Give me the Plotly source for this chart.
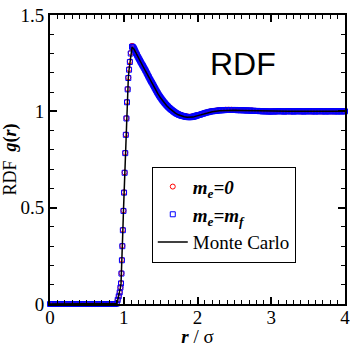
import numpy as np
import plotly.graph_objects as go

# ---- sample positions r/sigma of the simulation points ----
r_flat = np.round(np.arange(0.0, 0.881, 0.02), 3)          # 45 points
r_rise = [0.905, 0.918, 0.932, 0.945, 0.955, 0.963, 0.969, 0.975, 0.981, 0.988, 0.996, 1.004,
          1.012, 1.020, 1.028, 1.036, 1.044, 1.053, 1.062, 1.072, 1.083, 1.095, 1.112]
r_decay = np.round(np.arange(1.12, 2.0001, 0.01), 3)        # 89 points
r_tail = np.round(np.arange(2.02, 4.0001, 0.02), 3)         # 100 points

# ---- m_e = m_f (blue squares) ----
mef_flat = [0, 0, 0, 0, 0, 0, 0, 0, 0, 0, 0, 0, 0, 0, 0, 0, 0, 0, 0, 0, 0, 0, 0,
            0, 0, 0, 0, 0, 0, 0, 0, 0, 0, 0, 0, 0, 0, 0, 0, 0, 0, 0, 0, 0, 0]
mef_rise = [0.002, 0.021, 0.040, 0.060, 0.085, 0.107, 0.158, 0.227, 0.300, 0.383, 0.483, 0.578,
            0.681, 0.783, 0.878, 0.963, 1.047, 1.114, 1.173, 1.216, 1.256, 1.300, 1.335]
mef_decay = [1.335, 1.331, 1.325, 1.317, 1.308, 1.300, 1.292, 1.284, 1.277, 1.270,
             1.263, 1.256, 1.249, 1.242, 1.236, 1.229, 1.222, 1.215, 1.208, 1.200,
             1.193, 1.185, 1.178, 1.170, 1.163, 1.156, 1.150, 1.143, 1.136, 1.129,
             1.122, 1.115, 1.108, 1.101, 1.095, 1.088, 1.082, 1.076, 1.071, 1.065,
             1.060, 1.055, 1.050, 1.045, 1.041, 1.036, 1.032, 1.028, 1.024, 1.020,
             1.017, 1.013, 1.010, 1.007, 1.004, 1.001, 0.998, 0.995, 0.993, 0.990,
             0.988, 0.986, 0.984, 0.982, 0.981, 0.979, 0.978, 0.977, 0.976, 0.975,
             0.974, 0.973, 0.972, 0.971, 0.971, 0.970, 0.970, 0.970, 0.970, 0.970,
             0.971, 0.971, 0.972, 0.973, 0.974, 0.975, 0.977, 0.978, 0.979]
mef_tail = [0.981, 0.983, 0.986, 0.988, 0.991, 0.993, 0.995, 0.997, 0.999, 1.000,
            1.001, 1.002, 1.003, 1.004, 1.005, 1.005, 1.006, 1.006, 1.007, 1.007,
            1.007, 1.007, 1.007, 1.007, 1.007, 1.007, 1.006, 1.006, 1.006, 1.006,
            1.005, 1.005, 1.005, 1.004, 1.004, 1.004, 1.003, 1.003, 1.002, 1.002,
            1.002, 1.001, 1.001, 1.000, 1.000, 1.000, 1.000, 0.999, 0.999, 0.999,
            1.000, 0.999, 1.000, 1.000, 1.001, 1.000, 1.000, 1.000, 0.999, 1.000,
            1.000, 1.001, 1.000, 1.000, 0.999, 1.000, 1.000, 1.000, 1.001, 1.000,
            1.000, 0.999, 1.000, 1.000, 1.000, 1.001, 1.000, 1.000, 1.000, 0.999,
            1.000, 1.000, 1.001, 1.000, 1.000, 1.000, 0.999, 1.000, 1.000, 1.000,
            1.001, 1.000, 1.000, 1.000, 0.999, 1.000, 1.000, 1.000, 1.000, 1.000]

# ---- m_e = 0 (red circles) ----
me0_flat = [0, 0, 0, 0, 0, 0, 0, 0, 0, 0, 0, 0, 0, 0, 0, 0, 0, 0, 0, 0, 0, 0, 0,
            0, 0, 0, 0, 0, 0, 0, 0, 0, 0, 0, 0, 0, 0, 0, 0, 0, 0, 0, 0, 0, 0]
me0_rise = [0.003, 0.022, 0.041, 0.061, 0.086, 0.108, 0.160, 0.229, 0.302, 0.385, 0.485, 0.580,
            0.683, 0.785, 0.880, 0.965, 1.049, 1.116, 1.175, 1.219, 1.259, 1.304, 1.340]
me0_decay = [1.338, 1.333, 1.327, 1.319, 1.310, 1.302, 1.294, 1.286, 1.279, 1.272,
             1.265, 1.258, 1.251, 1.244, 1.238, 1.231, 1.224, 1.217, 1.210, 1.202,
             1.195, 1.187, 1.180, 1.172, 1.165, 1.158, 1.152, 1.145, 1.138, 1.131,
             1.124, 1.117, 1.110, 1.103, 1.097, 1.090, 1.084, 1.078, 1.073, 1.067,
             1.062, 1.057, 1.052, 1.047, 1.043, 1.038, 1.034, 1.030, 1.026, 1.022,
             1.019, 1.015, 1.012, 1.009, 1.006, 1.003, 1.000, 0.997, 0.995, 0.992,
             0.990, 0.988, 0.986, 0.984, 0.983, 0.981, 0.980, 0.978, 0.977, 0.976,
             0.975, 0.974, 0.973, 0.973, 0.972, 0.972, 0.972, 0.971, 0.971, 0.972,
             0.972, 0.973, 0.973, 0.974, 0.975, 0.976, 0.977, 0.978, 0.980]
me0_tail = [0.982, 0.984, 0.987, 0.989, 0.992, 0.994, 0.996, 0.998, 1.000, 1.001,
            1.002, 1.003, 1.004, 1.005, 1.006, 1.006, 1.007, 1.007, 1.008, 1.008,
            1.008, 1.008, 1.008, 1.007, 1.007, 1.007, 1.007, 1.006, 1.006, 1.006,
            1.006, 1.005, 1.005, 1.005, 1.004, 1.004, 1.004, 1.003, 1.003, 1.002,
            1.002, 1.002, 1.001, 1.001, 1.001, 1.000, 1.000, 1.000, 0.999, 0.999,
            1.000, 1.000, 0.999, 1.000, 1.001, 1.001, 1.000, 1.000, 0.999, 1.000,
            1.001, 1.000, 1.000, 0.999, 1.000, 1.000, 1.001, 1.001, 1.000, 1.000,
            0.999, 1.000, 1.000, 1.001, 1.000, 1.000, 1.000, 0.999, 1.000, 1.001,
            1.000, 1.000, 1.000, 1.000, 0.999, 1.000, 1.001, 1.000, 1.000, 1.000,
            1.000, 0.999, 1.000, 1.000, 1.001, 1.000, 1.000, 1.000, 1.000, 1.000]

# ---- Monte Carlo reference curve (black line) ----
r_mc = [0.00, 0.40, 0.88, 0.905, 0.918, 0.932, 0.945, 0.955, 0.963, 0.969, 0.975, 0.981, 0.988,
        0.996, 1.004, 1.012, 1.020, 1.028, 1.036, 1.044, 1.053, 1.062, 1.072, 1.083, 1.095, 1.112,
        1.14, 1.18, 1.22, 1.26, 1.30, 1.34, 1.38, 1.42, 1.46, 1.50, 1.54, 1.58, 1.62, 1.66, 1.70,
        1.74, 1.78, 1.82, 1.86, 1.90, 1.94, 1.98, 2.05, 2.10, 2.15, 2.20, 2.30, 2.40, 2.50, 2.60,
        2.70, 2.80, 2.90, 3.00, 3.25, 3.50, 3.75, 4.00]
g_mc = [0.000, 0.000, 0.000, 0.002, 0.021, 0.040, 0.060, 0.085, 0.107, 0.158, 0.227, 0.300, 0.383,
        0.483, 0.578, 0.681, 0.783, 0.878, 0.963, 1.047, 1.114, 1.173, 1.216, 1.256, 1.300, 1.332,
        1.322, 1.290, 1.261, 1.234, 1.206, 1.176, 1.148, 1.120, 1.093, 1.069, 1.048, 1.030, 1.015,
        1.002, 0.991, 0.982, 0.976, 0.972, 0.969, 0.968, 0.970, 0.975, 0.983, 0.989, 0.994, 0.998,
        1.003, 1.005, 1.005, 1.004, 1.003, 1.001, 1.000, 1.000, 1.000, 1.000, 1.000, 1.000]

r = list(r_flat) + r_rise + list(r_decay) + list(r_tail)
g_mef = mef_flat + mef_rise + mef_decay + mef_tail
g_me0 = me0_flat + me0_rise + me0_decay + me0_tail
assert len(r) == len(g_mef) == len(g_me0), (len(r), len(g_mef), len(g_me0))
assert len(r_mc) == len(g_mc), (len(r_mc), len(g_mc))

x_ticks = [0, 1, 2, 3, 4]
y_ticks = [0, 0.5, 1, 1.5]
y_tick_labels = ["0", "0.5", "1", "1.5"]

serif = "Liberation Serif, Times New Roman, serif"

fig = go.Figure()
fig.add_trace(go.Scatter(
    x=r, y=g_me0, mode="markers", cliponaxis=False,
    name="<b><i>m</i></b><sub><b><i>e</i></b></sub><b><i>=0</i></b>",
    marker=dict(symbol="circle-open", size=5, color="#ff0000", line=dict(width=1))))
fig.add_trace(go.Scatter(
    x=r, y=g_mef, mode="markers", cliponaxis=False,
    name="<b><i>m</i></b><sub><b><i>e</i></b></sub><b><i>=m</i></b><sub><b><i>f</i></b></sub>",
    marker=dict(symbol="square-open", size=5, color="#0000ff", line=dict(width=1))))
fig.add_trace(go.Scatter(
    x=r_mc, y=g_mc, mode="lines", cliponaxis=False,
    name="Monte Carlo", line=dict(color="black", width=1.5)))

axis_common = dict(
    showline=True, linecolor="black", linewidth=2, mirror="ticks",
    ticks="inside", ticklen=7, tickwidth=1.5, tickcolor="black",
    showgrid=False, zeroline=False, automargin=False,
    ticklabeloverflow="allow",
    tickfont=dict(family=serif, size=19, color="black"),
)

fig.update_xaxes(
    range=[0, 4], tickvals=x_ticks, ticklabelstandoff=-5,
    minor=dict(dtick=0.1, ticks="inside", ticklen=4, tickwidth=1, tickcolor="black"),
    title=dict(text="<b><i>r</i></b> / σ", font=dict(family=serif, size=19, color="black"), standoff=9),
    **axis_common)
fig.update_yaxes(
    range=[0, 1.5], tickvals=y_ticks, ticktext=y_tick_labels,
    minor=dict(dtick=0.1, ticks="inside", ticklen=4, tickwidth=1, tickcolor="black"),
    title=dict(text="RDF  <b><i>g</i>(<i>r</i>)</b>", font=dict(family=serif, size=18, color="black"), standoff=1),
    **axis_common)

fig.add_annotation(
    x=0.655, y=0.83, xref="paper", yref="paper", xanchor="center", yanchor="middle",
    text="RDF", showarrow=False,
    font=dict(family="Liberation Sans, Arial, sans-serif", size=32, color="black"))

fig.update_layout(
    width=350, height=347,
    margin=dict(l=50, r=5, t=15, b=43),
    paper_bgcolor="white", plot_bgcolor="white",
    legend=dict(x=0.345, y=0.475, xanchor="left", yanchor="top",
                bordercolor="black", borderwidth=1, bgcolor="white",
                font=dict(family=serif, size=19, color="black"),
                tracegroupgap=0, itemwidth=30),
    showlegend=True,
)

fig.write_html("out.html")
